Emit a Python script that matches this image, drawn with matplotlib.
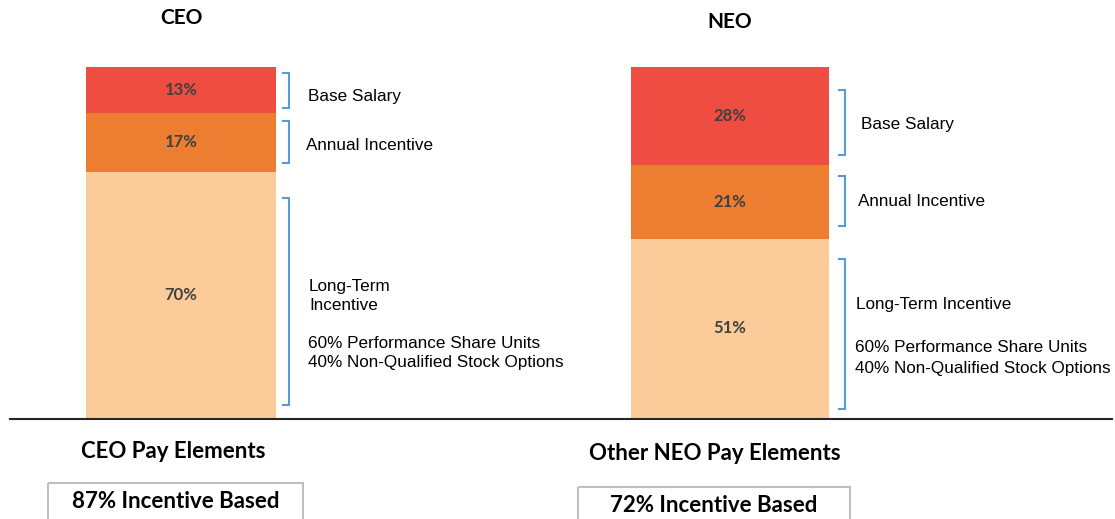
import matplotlib.pyplot as plt
from matplotlib.patches import Rectangle

# chart values
groups = ["CEO", "NEO"]
elements = ["Base Salary", "Annual Incentive", "Long-Term Incentive"]
ceo_pct = [13, 17, 70]
neo_pct = [28, 21, 51]
footers = ["CEO Pay Elements", "Other NEO Pay Elements"]
incentive_pct = [87, 72]
lti_mix = ["60% Performance Share Units", "40% Non-Qualified Stock Options"]

colors = ["#EF4C42", "#ED7D31", "#FBCC9A"]
W, H = 1115, 519
base_px, top_px = 418, 67           # pixel rows of 0% and 100%
ppp = (base_px - top_px) / 100.0    # pixels per percent

fig = plt.figure(figsize=(W / 100, H / 100), dpi=100)

# bar axes: x in pixels, y in percent
ax = fig.add_axes([0, 0, 1, 1])
ax.set_xlim(0, W)
ax.set_ylim(-(H - base_px) / ppp, 100 + top_px / ppp)
ax.axis("off")

# overlay axes in pixel coords (top-left origin) for annotations
ov = fig.add_axes([0, 0, 1, 1], zorder=3)
ov.set_xlim(0, W)
ov.set_ylim(H, 0)
ov.axis("off")

bar_x = [181, 730]
bar_w = [190, 198]
title_y = [18, 22]
footer_x = [173, 715]
box_ext = [(48, 303, 483), (578, 850, 487)]
bracket_x = [289, 845]
label_x = [[308, 306, 309], [861, 858, 856]]
label_y = [[96, 146], [125, 202]]
bracket_spans = [[(73, 108), (121, 163), (198, 405)],
                 [(90, 155), (176, 226), (259, 409)]]
fs = 12.3
lab_font = "Liberation Sans"

for g, pct in enumerate([ceo_pct, neo_pct]):
    # stack from bottom: long-term, annual, base
    bottom = 0
    for i in [2, 1, 0]:
        ax.bar(bar_x[g], pct[i], bottom=bottom, width=bar_w[g],
               color=colors[i], edgecolor="none")
        ax.text(bar_x[g], bottom + pct[i] / 2, f"{pct[i]}%",
                ha="center", va="center", fontsize=12,
                fontweight="bold", color="#404040", family="Lato")
        bottom += pct[i]

    ov.text(bar_x[g], title_y[g], groups[g], ha="center", va="center",
            fontsize=15, fontweight="bold", family="Lato")

    # brackets
    bx = bracket_x[g]
    for y0, y1 in bracket_spans[g]:
        ov.plot([bx - 6, bx, bx, bx - 6], [y0, y0, y1, y1],
                color="#5B9BD5", lw=1.5, solid_joinstyle="miter")

    # labels
    lx = label_x[g]
    ov.text(lx[0], label_y[g][0], elements[0], va="center", fontsize=fs,
            family=lab_font)
    ov.text(lx[1], label_y[g][1], elements[1], va="center", fontsize=fs,
            family=lab_font)
    if g == 0:
        ov.text(lx[2], 287, "Long-Term", va="center", fontsize=fs,
                family=lab_font)
        ov.text(lx[2], 306, "Incentive", va="center", fontsize=fs,
                family=lab_font)
        mix_y = [343, 362]
    else:
        ov.text(lx[2], 305, elements[2], va="center", fontsize=fs,
                family=lab_font)
        mix_y = [348, 368]
    for k, s in enumerate(lti_mix):
        ov.text(lx[2] - 1, mix_y[k], s, va="center", fontsize=fs,
                family=lab_font)

    # footer and boxed incentive share
    ov.text(footer_x[g], 451 + 2 * g, footers[g], ha="center", va="center",
            fontsize=16, fontweight="bold", family="Lato")
    x0, x1, y0 = box_ext[g]
    ov.add_patch(Rectangle((x0, y0), x1 - x0, H + 5 - y0, fill=False,
                           edgecolor="#BFBFBF", lw=1.5, clip_on=False))
    ov.text((x0 + x1) / 2, y0 + 19, f"{incentive_pct[g]}% Incentive Based",
            ha="center", va="center", fontsize=16, fontweight="bold",
            family="Lato")

# baseline
ov.plot([10, 1112], [419, 419], color="#262626", lw=1.5)

fig.savefig("out.png", dpi=100)
